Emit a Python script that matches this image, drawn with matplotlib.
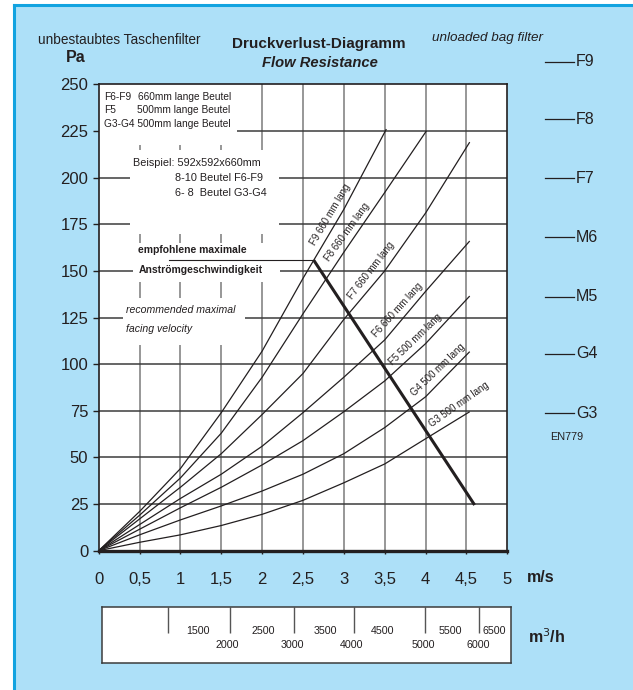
import matplotlib.pyplot as plt
from matplotlib.patches import Rectangle
from matplotlib.lines import Line2D

plt.rcParams['font.family'] = ['Liberation Sans Narrow', 'Liberation Sans', 'DejaVu Sans']
plt.rcParams['text.color'] = '#231f20'

W, H = 633, 690
INK = '#231f20'

# pressure drop of the unloaded bag filters (m/s -> Pa)
f9_v = [0, 0.5, 1, 1.5, 2, 2.5, 3, 3.52]
f9_p = [0, 21, 44, 74, 107, 146, 183, 226]
f8_v = [0, 0.5, 1, 1.5, 2, 2.5, 3, 3.5, 4.01]
f8_p = [0, 19, 39, 63, 93, 127, 160, 192, 225]
long_v = [0, 0.5, 1, 1.5, 2, 2.5, 3, 3.5, 4, 4.54]
f7_p = [0, 17, 34, 52, 73, 95, 124, 150, 181, 219]
f6_p = [0, 14, 28, 41, 56, 74, 93, 113, 139, 166]
f5_p = [0, 11.5, 23, 34, 46, 59, 74.5, 91, 111, 136.5]
g4_p = [0, 8.5, 16.5, 24, 32, 41, 52, 66, 82.5, 106.7]
g3_p = [0, 4.5, 8.5, 13.5, 19.5, 27, 36.4, 46.5, 60, 74.5]

curve_names = ["F9 660 mm lang", "F8 660 mm lang", "F7 660 mm lang", "F6 660 mm lang",
               "F5 500 mm lang", "G4 500 mm lang", "G3 500 mm lang"]

# recommended maximal facing velocity
rec_v = [2.63, 4.6]
rec_p = [155.8, 24.5]

speed_ticks = [0, 0.5, 1, 1.5, 2, 2.5, 3, 3.5, 4, 4.5, 5]
speed_labels = ["0", "0,5", "1", "1,5", "2", "2,5", "3", "3,5", "4", "4,5", "5"]
pa_ticks = [0, 25, 50, 75, 100, 125, 150, 175, 200, 225, 250]

# air volume scale (m3/h) placed under the velocity axis
flow_tick_v = [0.85, 1.61, 2.39, 3.12, 3.99, 4.66]
flow_upper = ["1500", "2500", "3500", "4500", "5500", "6500"]
flow_upper_v = [1.21, 2.01, 2.78, 3.48, 4.31, 4.84]
flow_lower = ["2000", "3000", "4000", "5000", "6000"]
flow_lower_v = [1.57, 2.37, 3.10, 3.97, 4.64]

classes = ["F9", "F8", "F7", "M6", "M5", "G4", "G3"]


def fx(px):
    return px / W


def fy(py):
    return 1 - py / H


fig = plt.figure(figsize=(W / 100, H / 100), dpi=100)
fig.patch.set_facecolor('white')
fig.add_artist(Rectangle((fx(14), 0), 1, fy(5), transform=fig.transFigure,
                         facecolor='#ade0f8', edgecolor='none', zorder=-2))
fig.add_artist(Line2D([fx(14), fx(14)], [0, fy(5)], transform=fig.transFigure, color='#12a3e0', lw=2.2, zorder=-1))
fig.add_artist(Line2D([fx(14), 1], [fy(5), fy(5)], transform=fig.transFigure, color='#12a3e0', lw=2.2, zorder=-1))

ax = fig.add_axes([fx(98.7), fy(550.7), (507.3 - 98.7) / W, (550.7 - 84.3) / H])
ax.set_facecolor('white')
ax.set_xlim(0, 5)
ax.set_ylim(0, 250)
ax.set_xticks(speed_ticks)
ax.set_xticklabels(speed_labels)
ax.set_yticks(pa_ticks)
ax.tick_params(axis='y', length=4, width=1, pad=3.5, labelsize=12, colors=INK)
ax.tick_params(axis='x', length=2.5, width=1, pad=13, labelsize=12, colors=INK)
for v in speed_ticks[1:-1]:
    ax.axvline(v, color='#7a7a7a', lw=1.1, zorder=0.5)
for p in pa_ticks[1:-1]:
    ax.axhline(p, color='#3c3c3c', lw=1.1, zorder=0.5)
for side in ['top', 'right', 'left']:
    ax.spines[side].set_color(INK)
    ax.spines[side].set_linewidth(1.2)
ax.spines['bottom'].set_color(INK)
ax.spines['bottom'].set_linewidth(2.4)

# white text panels that cut the grid
for x0, y0, w, h in [(0, 217.5, 1.69, 32.5), (0.38, 169.7, 1.83, 45.1),
                     (0.42, 144.0, 1.80, 21.0), (0.30, 110.2, 1.49, 25.2)]:
    ax.add_patch(Rectangle((x0, y0), w, h, facecolor='white', edgecolor='none', zorder=2))

series = [(f9_v, f9_p), (f8_v, f8_p), (long_v, f7_p), (long_v, f6_p),
          (long_v, f5_p), (long_v, g4_p), (long_v, g3_p)]
for v, p in series:
    ax.plot(v, p, color=INK, lw=0.9, zorder=3, solid_capstyle='butt')

ax.plot(rec_v, rec_p, color=INK, lw=2.2, zorder=3, solid_capstyle='butt')
ax.plot([0.86, rec_v[0]], [rec_p[0], rec_p[0]], color=INK, lw=0.8, zorder=4)

label_spots = [(2.84, 180.4, 59.4), (3.035, 171.0, 54.2), (3.33, 150.0, 52.4), (3.66, 129.0, 47.8),
               (3.87, 113.5, 44.0), (4.15, 96.9, 44.0), (4.41, 78.2, 35.2)]
for name, (lx, ly, ang) in zip(curve_names, label_spots):
    ax.text(lx, ly, name, rotation=ang, rotation_mode='anchor', ha='center', va='center',
            fontsize=6.9, color=INK, zorder=4)

ax.text(0.065, 243.4, "F6-F9", fontsize=7.3, va='center', zorder=4)
ax.text(0.48, 243.4, "660mm lange Beutel", fontsize=7.3, va='center', zorder=4)
ax.text(0.065, 236.2, "F5", fontsize=7.3, va='center', zorder=4)
ax.text(0.47, 236.2, "500mm lange Beutel", fontsize=7.3, va='center', zorder=4)
ax.text(0.065, 228.7, "G3-G4 500mm lange Beutel", fontsize=7.3, va='center', zorder=4)

ax.text(0.42, 207.8, "Beispiel: 592x592x660mm", fontsize=7.8, va='center', zorder=4)
ax.text(0.935, 199.8, "8-10 Beutel F6-F9", fontsize=7.8, va='center', zorder=4)
ax.text(0.935, 191.7, "6- 8  Beutel G3-G4", fontsize=7.8, va='center', zorder=4)

ax.text(0.485, 161.2, "empfohlene maximale", fontsize=7.5, fontweight='bold', va='center', zorder=4)
ax.text(0.485, 150.5, "Anströmgeschwindigkeit", fontsize=7.5, fontweight='bold', va='center', zorder=4)
ax.text(0.335, 129.0, "recommended maximal", fontsize=7.6, fontstyle='italic', va='center', zorder=4)
ax.text(0.335, 118.7, "facing velocity", fontsize=7.6, fontstyle='italic', va='center', zorder=4)

# headings around the plot
fig.text(fx(38), fy(40), "unbestaubtes Taschenfilter", fontsize=9.8, va='center')
fig.text(fx(66), fy(58), "Pa", fontsize=11.5, fontweight='bold', va='center')
fig.text(fx(319), fy(44), "Druckverlust-Diagramm", fontsize=11, fontweight='bold', ha='center', va='center')
fig.text(fx(320), fy(63), "Flow Resistance", fontsize=10.6, fontweight='bold', fontstyle='italic',
         ha='center', va='center')
fig.text(fx(432), fy(38), "unloaded bag filter", fontsize=9.7, fontstyle='italic', va='center')
fig.text(fx(527), fy(577), "m/s", fontsize=11.5, fontweight='bold', va='center')
fig.text(fx(528), fy(637), "m$^3$/h", fontsize=11.5, fontweight='bold', va='center')

# filter classes after EN779
for name, py in zip(classes, [61.7, 119.3, 178.3, 237.3, 297, 354, 413.3]):
    fig.add_artist(Line2D([fx(545), fx(574)], [fy(py), fy(py)], transform=fig.transFigure, color=INK, lw=0.9))
    fig.text(fx(576), fy(py), name, fontsize=11.5, va='center')
fig.text(fx(550), fy(437), "EN779", fontsize=7.8, va='center')

# volume flow scale
ax2 = fig.add_axes([fx(101.7), fy(663.3), (510.7 - 101.7) / W, (663.3 - 606.7) / H])
ax2.set_facecolor('white')
ax2.set_xlim(0.037, 5.043)
ax2.set_ylim(0, 1)
ax2.set_xticks([])
ax2.set_yticks([])
for side in ax2.spines.values():
    side.set_color('#3c3c3c')
    side.set_linewidth(1.1)
ax2.vlines(flow_tick_v, 0.535, 1, color='#555555', lw=1.0)
for lab, v in zip(flow_upper, flow_upper_v):
    ax2.text(v, 0.576, lab, fontsize=7.7, ha='center', va='center', color=INK)
for lab, v in zip(flow_lower, flow_lower_v):
    ax2.text(v, 0.323, lab, fontsize=7.7, ha='center', va='center', color=INK)

fig.savefig('out.png', dpi=100)
